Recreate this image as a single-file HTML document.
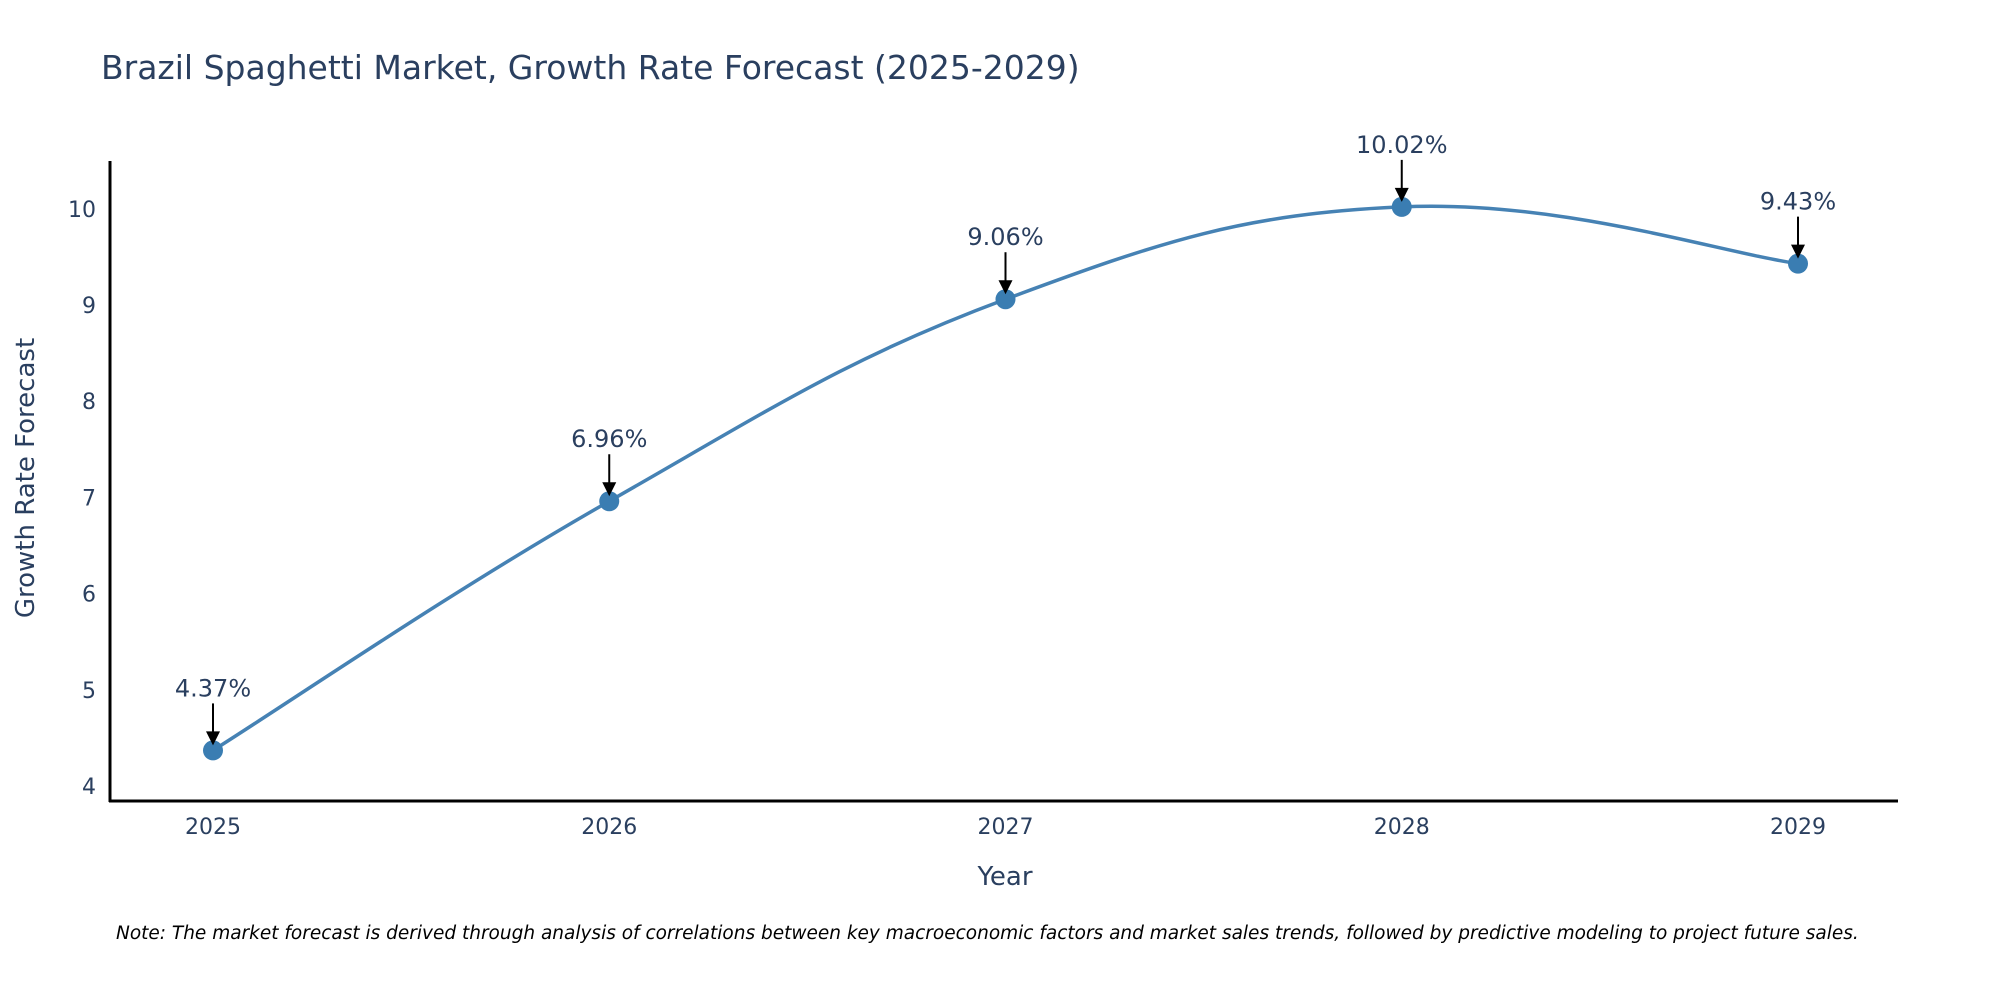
<!DOCTYPE html>
<html><head><meta charset="utf-8"><style>
body{margin:0;background:#fff;overflow:hidden;}
svg{display:block;font-family:"DejaVu Sans","Liberation Sans",sans-serif;}
</style></head><body>
<svg id="chart" width="2000" height="1000" viewBox="0 0 2000 1000">
<text x="101" y="79" font-size="33" fill="#2a3f5f">Brazil Spaghetti Market, Growth Rate Forecast (2025-2029)</text>
<g id="yticks"></g>
<g id="xticks"></g>
<line x1="110" y1="161" x2="110" y2="802" stroke="#000" stroke-width="3"/>
<line x1="109" y1="801" x2="1898" y2="801" stroke="#000" stroke-width="3"/>
<path id="line" fill="none" stroke="#4682b4" stroke-width="3.5"/>
<g id="marks"></g>
<text x="1005" y="885" font-size="26" fill="#2a3f5f" text-anchor="middle">Year</text>
<text transform="translate(34,478) rotate(-90)" font-size="26" fill="#2a3f5f" text-anchor="middle">Growth Rate Forecast</text>
<text x="116" y="939" font-size="18.5" font-style="italic" fill="#000">Note: The market forecast is derived through analysis of correlations between key macroeconomic factors and market sales trends, followed by predictive modeling to project future sales.</text>
</svg>
<script>
const years=[2025,2026,2027,2028,2029];
const values=[4.37,6.96,9.06,10.02,9.43];
const labels=["4.37%","6.96%","9.06%","10.02%","9.43%"];
const yTicks=[4,5,6,7,8,9,10];
const NS="http://www.w3.org/2000/svg";
const X=v=>213+(v-2025)*396.25;
const Y=v=>786-(v-4)*96.2;
function mk(t,a,p){const e=document.createElementNS(NS,t);for(const k in a)e.setAttribute(k,a[k]);p.appendChild(e);return e;}
const yt=document.getElementById('yticks');
yTicks.forEach(v=>{const t=mk('text',{x:96,y:Y(v)+8,'font-size':22,fill:'#2a3f5f','text-anchor':'end'},yt);t.textContent=v;

});
const xt=document.getElementById('xticks');
years.forEach(v=>{const t=mk('text',{x:X(v),y:834,'font-size':22,fill:'#2a3f5f','text-anchor':'middle'},xt);t.textContent=v;

});
const pts=years.map((y,i)=>[X(y),Y(values[i])]);
let d=`M${pts[0][0]},${pts[0][1]}`;const s=0.2;
for(let i=0;i<pts.length-1;i++){const p0=pts[Math.max(i-1,0)],p1=pts[i],p2=pts[i+1],p3=pts[Math.min(i+2,pts.length-1)];
d+=` C${p1[0]+(p2[0]-p0[0])*s},${p1[1]+(p2[1]-p0[1])*s} ${p2[0]-(p3[0]-p1[0])*s},${p2[1]-(p3[1]-p1[1])*s} ${p2[0]},${p2[1]}`;}
document.getElementById('line').setAttribute('d',d);
const g=document.getElementById('marks');
pts.forEach((p,i)=>{
const c=mk('circle',{cx:p[0],cy:p[1],r:10,fill:'#3a7db2'},g);


const l=mk('line',{x1:p[0],y1:p[1]-47,x2:p[0],y2:p[1]-18,stroke:'#000','stroke-width':2},g);


const h=mk('path',{d:`M${p[0]-7},${p[1]-19} L${p[0]+7},${p[1]-19} L${p[0]},${p[1]-5} Z`,fill:'#000'},g);


const t=mk('text',{x:p[0],y:p[1]-54,'font-size':24,fill:'#2a3f5f','text-anchor':'middle'},g);t.textContent=labels[i];


});
</script>
</body></html>
